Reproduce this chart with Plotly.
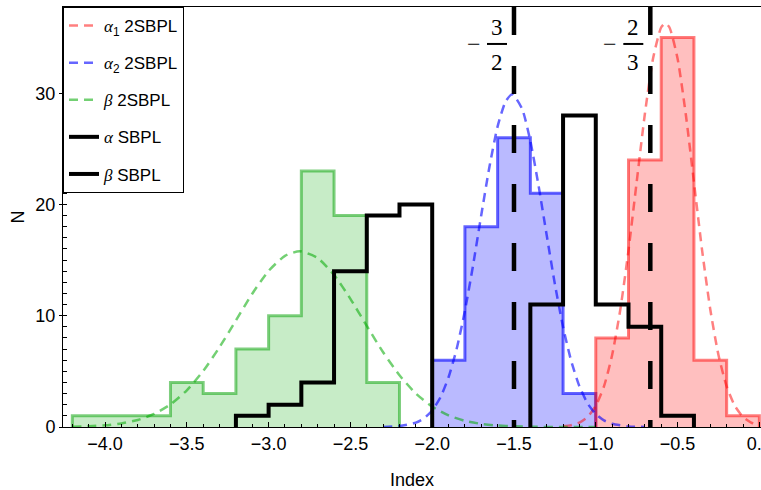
import plotly.graph_objects as go

# ---------------- data ----------------
red_edges = [-1.0, -0.8, -0.6, -0.4, -0.2, 0.0]
red_counts = [8, 24, 35, 6, 1]

blue_edges = [-2.0, -1.8, -1.6, -1.4, -1.2, -1.0]
blue_counts = [6, 18, 26, 21, 3]

green_edges = [-4.2, -4.0, -3.8, -3.6, -3.4, -3.2, -3.0, -2.8, -2.6, -2.4, -2.2]
green_counts = [1, 1, 1, 4, 3, 7, 10, 23, 19, 4]

alpha_sbpl_edges = [-1.4, -1.2, -1.0, -0.8, -0.6, -0.4]
alpha_sbpl_counts = [11, 28, 11, 9, 1]

beta_sbpl_edges = [-3.2, -3.0, -2.8, -2.6, -2.4, -2.2, -2.0]
beta_sbpl_counts = [1, 2, 4, 14, 19, 20]

# dashed fit curves
red_fit_x = [-1.20, -1.15, -1.10, -1.05, -1.00, -0.95, -0.90, -0.85, -0.80, -0.75, -0.70,
             -0.65, -0.60, -0.575, -0.55, -0.50, -0.45, -0.40, -0.35, -0.30, -0.25, -0.20,
             -0.15, -0.10, -0.05, 0.00]
red_fit_y = [0.06, 0.16, 0.40, 0.91, 1.90, 3.65, 6.47, 10.56, 15.88, 22.02, 28.13,
             33.12, 35.93, 36.3, 35.93, 33.12, 28.13, 22.02, 15.88, 10.56, 6.47, 3.65,
             1.90, 0.91, 0.40, 0.16]

blue_fit_x = [-2.30, -2.20, -2.10, -2.05, -2.00, -1.95, -1.90, -1.85, -1.80, -1.75, -1.70,
              -1.65, -1.60, -1.55, -1.51, -1.45, -1.40, -1.35, -1.30, -1.25, -1.20, -1.15,
              -1.10, -1.05, -1.00, -0.95, -0.90, -0.80, -0.70]
blue_fit_y = [0.01, 0.08, 0.39, 0.78, 1.49, 2.66, 4.47, 7.05, 10.45, 14.55, 19.05,
              23.40, 27.02, 29.30, 29.9, 28.58, 25.70, 21.71, 17.23, 12.84, 8.99, 5.92,
              3.66, 2.12, 1.16, 0.59, 0.29, 0.05, 0.01]

green_fit_x = [-4.2, -4.1, -4.0, -3.9, -3.8, -3.7, -3.6, -3.5, -3.4, -3.3, -3.2, -3.1,
               -3.0, -2.9, -2.81, -2.7, -2.6, -2.5, -2.4, -2.3, -2.2, -2.1, -2.0, -1.9,
               -1.8, -1.7, -1.6, -1.5, -1.4, -1.2, -1.0]
green_fit_y = [0.03, 0.07, 0.15, 0.32, 0.63, 1.17, 2.03, 3.30, 5.03, 7.18, 9.58, 11.98,
               14.03, 15.38, 15.8, 15.18, 13.67, 11.52, 9.09, 6.72, 4.65, 3.01, 1.83, 1.04,
               0.55, 0.28, 0.13, 0.06, 0.02, 0.0, 0.0]

ref_values = [-1.5, -2.0 / 3.0]
ref_numerators = ["3", "2"]
ref_denominators = ["2", "3"]

x_tickvals = [-4.0, -3.5, -3.0, -2.5, -2.0, -1.5, -1.0, -0.5, 0.0]
x_ticktext = ["−4.0", "−3.5", "−3.0", "−2.5", "−2.0", "−1.5", "−1.0", "−0.5", "0.0"]
y_tickvals = [0, 10, 20, 30]
y_ticktext = ["0", "10", "20", "30"]

series_names = ["<span style='font-family:Liberation Serif'><i>α</i></span><sub>1</sub> 2SBPL",
                "<span style='font-family:Liberation Serif'><i>α</i></span><sub>2</sub> 2SBPL",
                "<span style='font-family:Liberation Serif'><i>β</i></span> 2SBPL",
                "<span style='font-family:Liberation Serif'><i>α</i></span> SBPL",
                "<span style='font-family:Liberation Serif'><i>β</i></span> SBPL"]

# ---------------- helpers ----------------
def step_xy(edges, counts):
    xs = [edges[0]] + list(edges)
    ys = [0] + list(counts) + [0]
    return xs, ys

TXT = "Liberation Sans"
SERIF = "Liberation Serif"
fig = go.Figure()

fills = [
    (green_edges, green_counts, "rgba(0,170,0,0.22)", "rgba(0,160,0,0.5)"),
    (blue_edges, blue_counts, "rgba(0,0,255,0.27)", "rgba(0,0,255,0.6)"),
    (red_edges, red_counts, "rgba(255,0,0,0.25)", "rgba(255,0,0,0.5)"),
]
for e, c, fc, lc in fills:
    xs, ys = step_xy(e, c)
    fig.add_trace(go.Scatter(x=xs, y=ys, mode="lines", line=dict(shape="hv", color=lc, width=3),
                             fill="tozeroy", fillcolor=fc, showlegend=False, hoverinfo="skip"))

fits = [
    (red_fit_x, red_fit_y, "rgba(255,0,0,0.5)", series_names[0], 1),
    (blue_fit_x, blue_fit_y, "rgba(0,0,255,0.6)", series_names[1], 2),
    (green_fit_x, green_fit_y, "rgba(0,170,0,0.55)", series_names[2], 3),
]
for fx, fy, col, nm, rk in fits:
    fig.add_trace(go.Scatter(x=fx, y=fy, mode="lines",
                             line=dict(color=col, width=2.5, dash="9px,6px", shape="spline", smoothing=0.6),
                             name=nm, legendgroup=nm, legendrank=rk))

for e, c, nm, rk in [(alpha_sbpl_edges, alpha_sbpl_counts, series_names[3], 4),
                     (beta_sbpl_edges, beta_sbpl_counts, series_names[4], 5)]:
    xs, ys = step_xy(e, c)
    fig.add_trace(go.Scatter(x=xs, y=ys, mode="lines", line=dict(shape="hv", color="black", width=4),
                             name=nm, legendgroup=nm, legendrank=rk))

YTOP = 37.75
for v in ref_values:
    fig.add_trace(go.Scatter(x=[v, v], y=[YTOP, 0], mode="lines",
                             line=dict(color="black", width=4.5, dash="28px,31px"),
                             showlegend=False, hoverinfo="skip"))

annos = []
shapes = []
for v, num, den in zip(ref_values, ref_numerators, ref_denominators):
    annos.append(dict(x=v, xref="x", y=0.952, yref="paper", text=num, showarrow=False,
                      xanchor="center", yanchor="middle",
                      xshift=-17, font=dict(family=SERIF, size=23, color="black")))
    annos.append(dict(x=v, xref="x", y=0.867, yref="paper", text=den, showarrow=False,
                      xanchor="center", yanchor="middle",
                      xshift=-17, font=dict(family=SERIF, size=23, color="black")))
    annos.append(dict(x=v, xref="x", y=0.912, yref="paper", text="−", showarrow=False,
                      xanchor="center", yanchor="middle",
                      xshift=-40, font=dict(family=SERIF, size=24, color="black")))
    shapes.append(dict(type="line", xref="x", xsizemode="pixel", xanchor=v, x0=-27, x1=-7,
                       yref="paper", y0=0.912, y1=0.912, line=dict(color="black", width=2)))

fig.update_layout(
    width=761, height=490,
    margin=dict(l=63, r=0, t=7, b=63, autoexpand=False),
    paper_bgcolor="white", plot_bgcolor="white",
    font=dict(family=TXT, size=18, color="black"),
    annotations=annos, shapes=shapes,
    showlegend=True,
    legend=dict(x=0, y=1, xanchor="left", yanchor="top", bgcolor="white",
                bordercolor="black", borderwidth=1, traceorder="grouped", tracegroupgap=12,
                font=dict(family=TXT, size=17, color="black")),
)
fig.update_xaxes(range=[-4.257, 0.01], tickvals=x_tickvals, ticktext=x_ticktext,
                 ticks="inside", ticklen=5, tickcolor="black", ticklabeloverflow="allow",
                 automargin=False,
                 minor=dict(dtick=0.1, ticks="inside", ticklen=3, tickcolor="black"),
                 showline=True, linecolor="black", linewidth=1, mirror=True,
                 showgrid=False, zeroline=False,
                 title=dict(text="Index", standoff=20, font=dict(size=18)),
                 tickfont=dict(size=18))
fig.update_yaxes(range=[0, YTOP], tickvals=y_tickvals, ticktext=y_ticktext,
                 ticks="outside", ticklen=3, tickcolor="black",
                 minor=dict(dtick=1, ticks="inside", ticklen=4, tickcolor="black"),
                 showline=True, linecolor="black", linewidth=1, mirror=False,
                 showgrid=False, zeroline=False,
                 title=dict(text="N", standoff=6, font=dict(size=18)),
                 tickfont=dict(size=18))

fig.write_html("out.html")
